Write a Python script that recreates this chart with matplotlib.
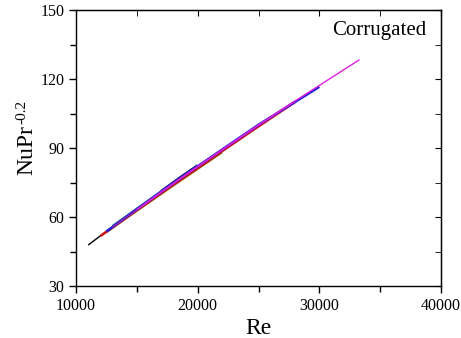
import matplotlib.pyplot as plt
from matplotlib.ticker import MultipleLocator

plt.rcParams['font.family'] = ['Liberation Serif', 'DejaVu Serif']

# Re vs NuPr^-0.2 for the corrugated channel, one list pair per case
re_black = [11000, 12000, 14000, 17000, 20000]
nu_black = [47.8, 51.8, 59.3, 70.6, 81.6]

re_olive = [12500, 15000, 18000, 22000]
nu_olive = [53.5, 62.8, 73.8, 88.2]

re_red = [12000, 15000, 18000, 22000, 25000, 28000]
nu_red = [51.7, 63.0, 74.1, 88.6, 99.4, 110.0]

re_green = [13000, 16000, 19000, 20000]
nu_green = [56.0, 67.3, 78.6, 82.3]

re_navy = [17000, 18500, 20000]
nu_navy = [71.2, 77.0, 82.4]

re_blue = [12500, 15000, 18000, 22000, 25000, 28000, 30000]
nu_blue = [53.7, 63.4, 74.8, 89.3, 100.1, 110.0, 116.6]

re_purple = [13000, 16000, 19000, 22000, 25000, 28000]
nu_purple = [55.6, 67.0, 78.3, 89.1, 99.9, 110.3]

re_magenta = [15000, 18000, 22000, 25000, 28000, 30000, 33300]
nu_magenta = [63.2, 74.6, 89.2, 100.0, 110.4, 117.2, 128.4]

series = [
    (re_black, nu_black, 'black', 1.0),
    (re_olive, nu_olive, '#8b6b00', 1.8),
    (re_red, nu_red, '#d01010', 1.8),
    (re_green, nu_green, '#008080', 1.8),
    (re_navy, nu_navy, '#101060', 1.8),
    (re_blue, nu_blue, '#2020e0', 1.8),
    (re_purple, nu_purple, '#8020c0', 1.5),
    (re_magenta, nu_magenta, '#e020e0', 1.0),
]

fig = plt.figure(figsize=(4.61, 3.38), dpi=100)
ax = fig.add_axes([76 / 461, 52 / 338, 365 / 461, 276 / 338])

for x, y, c, lw in series:
    ax.plot(x, y, color=c, lw=lw, solid_capstyle='butt')

ax.set_xlim(10000, 40000)
ax.set_ylim(30, 150)
ax.xaxis.set_major_locator(MultipleLocator(10000))
ax.xaxis.set_minor_locator(MultipleLocator(5000))
ax.yaxis.set_major_locator(MultipleLocator(30))
ax.yaxis.set_minor_locator(MultipleLocator(15))

ax.tick_params(which='both', direction='out', labelsize=11.5, width=1, color='black')
ax.tick_params(which='major', length=5)
ax.tick_params(which='minor', length=4)

# mirrored ticks on top and right, pointing inward
top = ax.secondary_xaxis('top')
top.set_xticks([10000, 20000, 30000, 40000])
top.xaxis.set_minor_locator(MultipleLocator(5000))
top.tick_params(which='both', direction='in', labeltop=False, length=4)
right = ax.secondary_yaxis('right')
right.set_yticks([30, 60, 90, 120, 150])
right.yaxis.set_minor_locator(MultipleLocator(15))
right.tick_params(which='both', direction='in', labelright=False, length=4)

for s in ax.spines.values():
    s.set_linewidth(1)

ax.set_xlabel('Re', fontsize=17, labelpad=3)
# y label: "NuPr" with a plain-hyphen superscript "-0.2"
fig.text(27 / 461, 1 - 150 / 338, 'NuPr', rotation=90, fontsize=17,
         ha='center', va='center')
fig.text(22 / 461, 1 - 112 / 338, '-0.2', rotation=90, fontsize=11,
         ha='center', va='center')
ax.text(0.96, 0.925, 'Corrugated', transform=ax.transAxes, ha='right', va='center',
        fontsize=15)

plt.savefig('out.png', dpi=100)
